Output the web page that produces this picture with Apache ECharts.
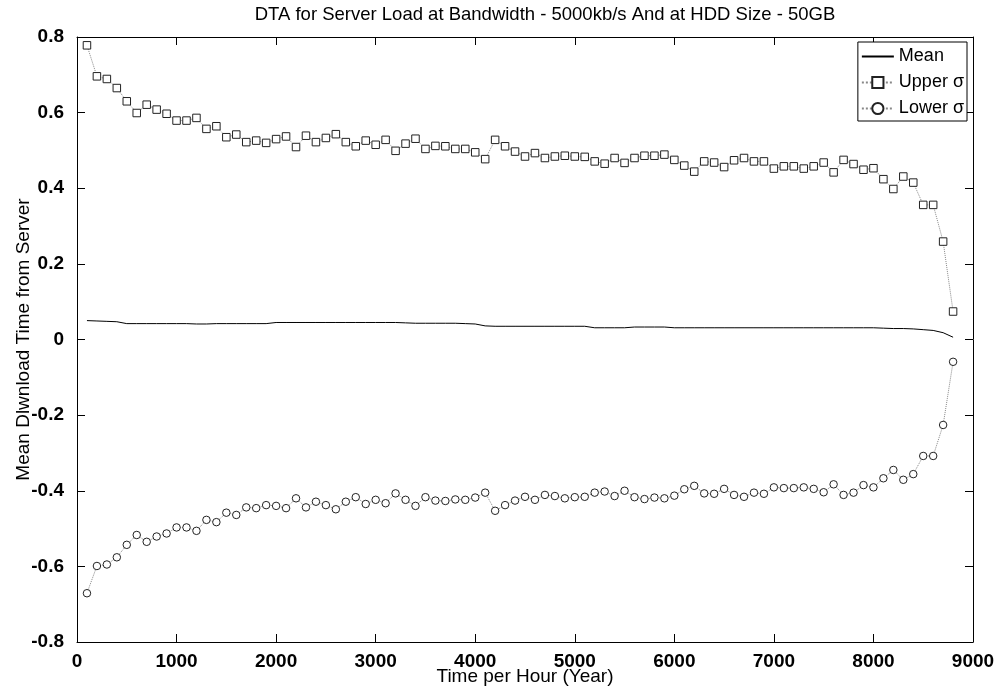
<!DOCTYPE html>
<html>
<head>
<meta charset="utf-8">
<script src="https://cdn.jsdelivr.net/npm/echarts@6/dist/echarts.min.js"></script>
<style>
html,body{margin:0;padding:0;background:#fff;overflow:hidden;}
#chart{width:1003px;height:689px;}
</style>
</head>
<body>
<div id="chart"></div>
<script>
// Time per hour sample points
const hours = [
  100,200,300,400,500,600,700,800,900,1000,
  1100,1200,1300,1400,1500,1600,1700,1800,1900,2000,
  2100,2200,2300,2400,2500,2600,2700,2800,2900,3000,
  3100,3200,3300,3400,3500,3600,3700,3800,3900,4000,
  4100,4200,4300,4400,4500,4600,4700,4800,4900,5000,
  5100,5200,5300,5400,5500,5600,5700,5800,5900,6000,
  6100,6200,6300,6400,6500,6600,6700,6800,6900,7000,
  7100,7200,7300,7400,7500,7600,7700,7800,7900,8000,
  8100,8200,8300,8400,8500,8600,8700,8800
];
const meanValues = [
  0.050,0.049,0.048,0.047,0.042,0.042,0.042,0.042,0.042,0.042,
  0.042,0.041,0.041,0.042,0.042,0.042,0.042,0.042,0.042,0.045,
  0.045,0.045,0.045,0.045,0.045,0.045,0.045,0.045,0.045,0.045,
  0.045,0.045,0.044,0.043,0.043,0.043,0.043,0.043,0.042,0.041,
  0.036,0.035,0.035,0.035,0.035,0.035,0.035,0.035,0.035,0.035,
  0.035,0.031,0.031,0.031,0.031,0.033,0.033,0.033,0.033,0.031,
  0.031,0.031,0.031,0.031,0.031,0.031,0.031,0.031,0.031,0.031,
  0.031,0.031,0.031,0.031,0.031,0.031,0.031,0.031,0.031,0.031,
  0.030,0.029,0.029,0.028,0.026,0.024,0.018,0.006
];
const upperValues = [
  0.778,0.696,0.689,0.665,0.630,0.599,0.621,0.608,0.597,0.579,
  0.579,0.586,0.557,0.564,0.535,0.542,0.522,0.526,0.520,0.530,
  0.537,0.509,0.539,0.522,0.533,0.543,0.522,0.511,0.526,0.515,
  0.528,0.499,0.518,0.531,0.504,0.512,0.511,0.504,0.504,0.495,
  0.477,0.528,0.511,0.497,0.484,0.493,0.480,0.484,0.486,0.484,
  0.483,0.471,0.465,0.480,0.467,0.480,0.486,0.486,0.489,0.475,
  0.460,0.444,0.471,0.468,0.456,0.474,0.480,0.471,0.471,0.452,
  0.458,0.458,0.452,0.458,0.468,0.442,0.475,0.464,0.449,0.453,
  0.424,0.398,0.431,0.415,0.356,0.356,0.259,0.074
];
const lowerValues = [
  -0.671,-0.599,-0.595,-0.576,-0.543,-0.517,-0.535,-0.521,-0.513,-0.497,
  -0.497,-0.506,-0.477,-0.483,-0.458,-0.464,-0.444,-0.446,-0.438,-0.440,
  -0.446,-0.420,-0.444,-0.429,-0.438,-0.449,-0.429,-0.417,-0.435,-0.424,
  -0.433,-0.407,-0.424,-0.440,-0.417,-0.426,-0.427,-0.423,-0.424,-0.418,
  -0.405,-0.453,-0.438,-0.426,-0.416,-0.424,-0.411,-0.414,-0.420,-0.417,
  -0.416,-0.405,-0.402,-0.414,-0.400,-0.417,-0.422,-0.418,-0.420,-0.413,
  -0.396,-0.387,-0.407,-0.408,-0.395,-0.411,-0.416,-0.405,-0.408,-0.391,
  -0.393,-0.393,-0.391,-0.395,-0.404,-0.383,-0.411,-0.405,-0.385,-0.391,
  -0.367,-0.345,-0.371,-0.356,-0.308,-0.308,-0.226,-0.059
];
const seriesNames = ['Mean', 'Upper σ', 'Lower σ'];
const titleText = 'DTA for Server Load at Bandwidth - 5000kb/s And at HDD Size - 50GB';
const xAxisTitle = 'Time per Hour (Year)';
const yAxisTitle = 'Mean Dlwnload Time from Server';

const pair = (vals) => hours.map((h, i) => [h, vals[i]]);
const FONT = 'Liberation Sans, Arial, Helvetica, sans-serif';
const fmtY = (v) => Math.abs(v) < 1e-9 ? '0' : (Math.round(v * 10) / 10).toFixed(1);
const fmtX = (v) => String(Math.round(v));

const axisCommon = {
  axisLine: { show: true, onZero: false, lineStyle: { color: '#000', width: 1 } },
  axisTick: { show: true, inside: true, length: 8, lineStyle: { color: '#000', width: 1 } },
  splitLine: { show: false },
  minorTick: { show: false }
};
const hidden = 'rgba(0,0,0,0)';

const chart = echarts.init(document.getElementById('chart'), null, { renderer: 'canvas' });
chart.setOption({
  backgroundColor: '#fff',
  animation: false,
  textStyle: { fontFamily: FONT },
  title: {
    text: titleText,
    left: 545,
    top: 5,
    textAlign: 'center',
    padding: 0,
    textStyle: { fontSize: 18.5, fontWeight: 'normal', color: '#000', fontFamily: FONT }
  },
  grid: { left: 77, right: 30, top: 37, bottom: 47, containLabel: false, outerBoundsMode: 'none' },
  legend: {
    orient: 'vertical',
    right: 36,
    top: 42,
    padding: [5, 3, 3, 3],
    itemGap: 7,
    itemWidth: 32,
    itemHeight: 14,
    backgroundColor: '#fff',
    borderColor: '#000',
    borderWidth: 1,
    borderRadius: 0,
    data: [
      { name: seriesNames[0], itemStyle: { color: hidden, borderColor: hidden, borderWidth: 0 } },
      { name: seriesNames[1] },
      { name: seriesNames[2] }
    ],
    textStyle: { fontSize: 18, color: '#000', fontFamily: FONT, lineHeight: 19 }
  },
  xAxis: [
    Object.assign({
      type: 'value', position: 'bottom', min: 0, max: 9000, interval: 1000,
      name: xAxisTitle, nameLocation: 'middle', nameGap: 25, nameMoveOverlap: false,
      nameTextStyle: { fontSize: 19, color: '#000', fontFamily: FONT },
      axisLabel: { show: true, margin: 10, fontSize: 19, fontWeight: 'bold', color: '#000', fontFamily: FONT, formatter: fmtX }
    }, axisCommon),
    Object.assign({
      type: 'value', position: 'top', min: 0, max: 9000, interval: 1000,
      axisLabel: { show: false }
    }, axisCommon)
  ],
  yAxis: [
    Object.assign({
      type: 'value', position: 'left', min: -0.8, max: 0.8, interval: 0.2,
      name: yAxisTitle, nameLocation: 'middle', nameGap: 44, nameRotate: 90, nameMoveOverlap: false,
      nameTextStyle: { fontSize: 19, color: '#000', fontFamily: FONT },
      axisLabel: { show: true, margin: 13, fontSize: 19, fontWeight: 'bold', color: '#000', fontFamily: FONT, formatter: fmtY }
    }, axisCommon),
    Object.assign({
      type: 'value', position: 'right', min: -0.8, max: 0.8, interval: 0.2,
      axisLabel: { show: false }
    }, axisCommon)
  ],
  series: [
    {
      name: seriesNames[0], type: 'line', xAxisIndex: 0, yAxisIndex: 0,
      data: pair(meanValues), symbol: 'none',
      lineStyle: { color: '#000', width: 1, type: 'solid' },
      itemStyle: { color: '#000' }
    },
    {
      name: seriesNames[1], type: 'line', xAxisIndex: 0, yAxisIndex: 0,
      data: pair(upperValues), symbol: 'rect', symbolSize: 7.5, showAllSymbol: true,
      lineStyle: { color: '#888', width: 1, type: 'dotted' },
      itemStyle: { color: '#fff', borderColor: '#222', borderWidth: 1 }
    },
    {
      name: seriesNames[2], type: 'line', xAxisIndex: 0, yAxisIndex: 0,
      data: pair(lowerValues), symbol: 'circle', symbolSize: 7.5, showAllSymbol: true,
      lineStyle: { color: '#888', width: 1, type: 'dotted' },
      itemStyle: { color: '#fff', borderColor: '#222', borderWidth: 1 }
    }
  ]
});
</script>
</body>
</html>
